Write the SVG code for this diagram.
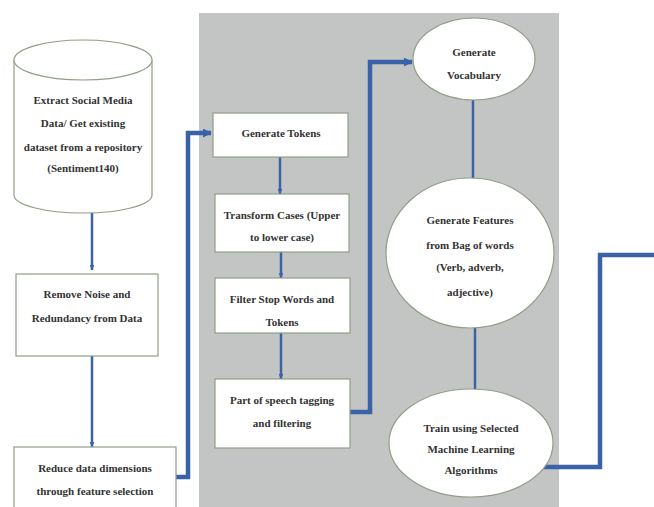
<svg xmlns="http://www.w3.org/2000/svg" width="654" height="507" viewBox="0 0 654 507">
<defs>
<style>
.t{font-family:'Liberation Serif','Times New Roman',serif;font-size:11px;font-weight:bold;fill:#333;text-anchor:middle}
.box{fill:#fff;stroke:#8f9e86;stroke-width:1.2}
.thin{fill:none;stroke:#3a62a6;stroke-width:2.5}
.thick{fill:none;stroke:#3a62a6;stroke-width:4.5}
</style>
<marker id="ah" viewBox="0 0 10 10" refX="9" refY="5" markerWidth="2.4" markerHeight="2.4" orient="auto"><path d="M0,1L10,5L0,9z" fill="#3a62a6"/></marker>
<marker id="ah2" viewBox="0 0 10 10" refX="9" refY="5" markerWidth="2" markerHeight="2" orient="auto"><path d="M0,0L10,5L0,10z" fill="#3a62a6"/></marker>
</defs>
<rect x="0" y="0" width="654" height="507" fill="#fff"/>
<rect id="panel" x="199" y="13" width="360" height="494" fill="#c3c5c5"/>
<g id="connectors">
<path class="thin" d="M92,213V270" marker-end="url(#ah)"/>
<path class="thin" d="M92,356V447" marker-end="url(#ah)"/>
<path class="thick" d="M176,477H188V133H211" marker-end="url(#ah2)"/>
<path class="thin" d="M280,157V194" marker-end="url(#ah)"/>
<path class="thin" d="M281,252V278" marker-end="url(#ah)"/>
<path class="thin" d="M281,333V379" marker-end="url(#ah)"/>
<path class="thick" d="M350,412H370V62H412" marker-end="url(#ah2)"/>
<path class="thin" d="M473,100V178"/>
<path class="thin" d="M475,328V390"/>
<path class="thick" d="M540,467H600V255H654"/>
</g>
<g id="extract">
<path class="box" d="M14,60V195A69,18 0 0 0 152,195V60"/>
<ellipse class="box" cx="83" cy="60" rx="69" ry="20"/>
<text class="t" x="83" y="104">Extract Social Media</text>
<text class="t" x="83" y="127">Data/ Get existing</text>
<text class="t" x="83" y="151">dataset from a repository</text>
<text class="t" x="83" y="172">(Sentiment140)</text>
</g>
<g id="remove">
<rect class="box" x="16" y="274" width="142" height="82"/>
<text class="t" x="87" y="298">Remove Noise and</text>
<text class="t" x="87" y="322">Redundancy from Data</text>
</g>
<g id="reduce">
<rect class="box" x="14" y="447" width="162" height="70"/>
<text class="t" x="95" y="472">Reduce data dimensions</text>
<text class="t" x="95" y="495">through feature selection</text>
</g>
<g id="tokens">
<rect class="box" x="213" y="113" width="135" height="44"/>
<text class="t" x="281" y="137">Generate Tokens</text>
</g>
<g id="transform">
<rect class="box" x="215" y="194" width="134" height="58"/>
<text class="t" x="282" y="219">Transform Cases (Upper</text>
<text class="t" x="282" y="241">to lower case)</text>
</g>
<g id="filter">
<rect class="box" x="215" y="278" width="135" height="55"/>
<text class="t" x="282" y="303">Filter Stop Words and</text>
<text class="t" x="282" y="326">Tokens</text>
</g>
<g id="pos">
<rect class="box" x="215" y="379" width="135" height="69"/>
<text class="t" x="282" y="404">Part of speech tagging</text>
<text class="t" x="282" y="427">and filtering</text>
</g>
<g id="vocab">
<ellipse class="box" cx="474" cy="59" rx="61" ry="41"/>
<text class="t" x="474" y="56">Generate</text>
<text class="t" x="474" y="79">Vocabulary</text>
</g>
<g id="features">
<ellipse class="box" cx="470" cy="253" rx="84" ry="75"/>
<text class="t" x="470" y="224">Generate Features</text>
<text class="t" x="470" y="249">from Bag of words</text>
<text class="t" x="470" y="271">(Verb, adverb,</text>
<text class="t" x="470" y="296">adjective)</text>
</g>
<g id="train">
<ellipse class="box" cx="471" cy="443" rx="82" ry="54"/>
<text class="t" x="471" y="432">Train using Selected</text>
<text class="t" x="471" y="453">Machine Learning</text>
<text class="t" x="471" y="474">Algorithms</text>
</g>
</svg>
